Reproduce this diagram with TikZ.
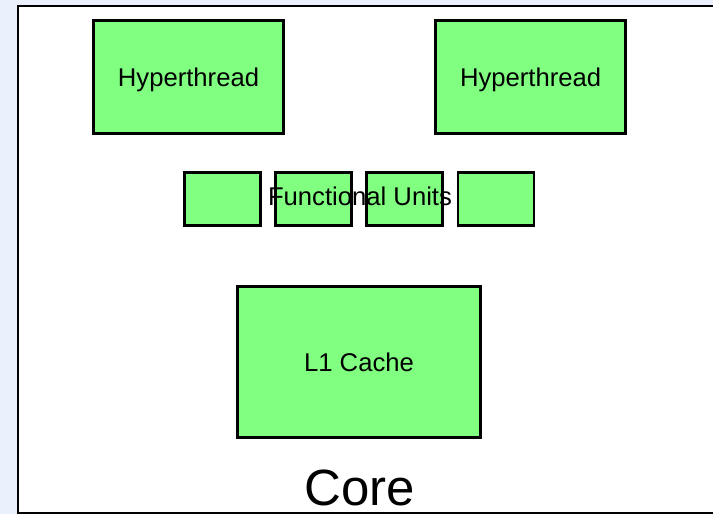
\documentclass[tikz,border=0pt]{standalone}
\usepackage{fontspec}
\setmainfont{Liberation Sans}
\usepackage{xcolor}
\usetikzlibrary{positioning}

\definecolor{pagebg}{RGB}{235,241,252}
\definecolor{unitgreen}{RGB}{128,255,128}

\begin{document}
\begin{tikzpicture}[
    font=\fontsize{14.6}{16}\selectfont,
    core/.style={draw=black, line width=1.2pt, fill=white, minimum width=14.6cm, minimum height=10.14cm, anchor=north west, inner sep=0pt},
    thread/.style={draw=black, line width=1.5pt, fill=unitgreen, minimum width=3.8cm, minimum height=2.26cm, text depth=0pt},
    unit/.style={draw=black, line width=1.5pt, fill=unitgreen, minimum width=1.52cm, minimum height=1.06cm},
    cache/.style={draw=black, line width=1.5pt, fill=unitgreen, minimum width=4.86cm, minimum height=3.02cm},
    caption/.style={font=\fontsize{29}{32}\selectfont, anchor=base}
]
    \useasboundingbox (0,0) rectangle (14.26,-10.28);
    \clip (0,0) rectangle (14.26,-10.28);
    \fill[pagebg] (0,0) rectangle (14.26,-10.28);

    % the core itself runs off the right and bottom edges
    \node[core] (core) at (0.34,-0.1) {};

    \node[thread] (ht1) at (3.77,-1.54) {Hyperthread};
    \node[thread, right=2.99cm of ht1] (ht2) {Hyperthread};

    \node[unit] (fu1) at (4.45,-3.98) {};
    \node[unit, right=0.25cm of fu1] (fu2) {};
    \node[unit, right=0.25cm of fu2] (fu3) {};
    \node[unit, right=0.25cm of fu3] (fu4) {};
    \node (fulabel) at (7.2,-3.92) {Functional Units};

    \node[cache] (l1) at (7.18,-7.24) {L1 Cache};

    \node[caption] (corelabel) at (7.19,-10.1) {Core};
\end{tikzpicture}
\end{document}
